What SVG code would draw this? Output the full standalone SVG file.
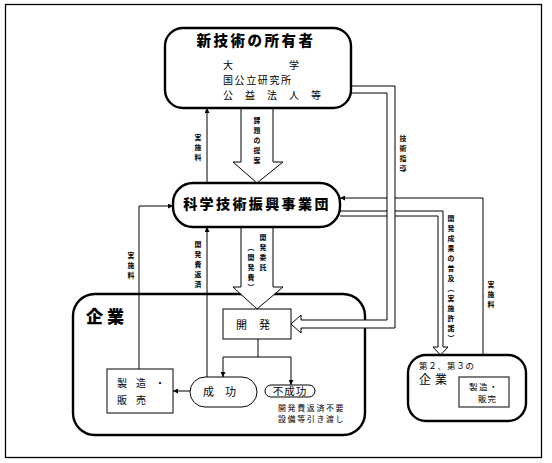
<svg xmlns="http://www.w3.org/2000/svg" width="552" height="463" viewBox="0 0 552 463">
<defs>
<marker id="ah" viewBox="0 0 10 10" refX="10" refY="5" markerWidth="5" markerHeight="5" orient="auto" markerUnits="userSpaceOnUse">
<path d="M0,0 L10,5 L0,10 Z" fill="#000"/>
</marker>
</defs>
<style>
text{font-family:"Noto Sans CJK JP","Noto Sans CJK SC",sans-serif;fill:#000}
.v{font-size:6.9px;text-anchor:middle;font-weight:bold}
.b{font-weight:900}
.box{fill:#fff;stroke:#000;stroke-width:2.4}
.rect{fill:#fff;stroke:#000;stroke-width:1}
.ln{fill:none;stroke:#000;stroke-width:1}
.ha{fill:#fff;stroke:#000;stroke-width:1}
</style>
<rect x="5.5" y="4.5" width="536" height="453" fill="#fff" stroke="#000" stroke-width="1.3"/>

<g id="kigyou">
<rect class="box" x="73" y="294" width="292" height="141" rx="22"/>
<text x="86" y="323" font-size="17" class="b" letter-spacing="4">企業</text>
</g>

<g id="connectors">
<line class="ln" x1="207" y1="183" x2="207" y2="108" marker-end="url(#ah)"/>
<line class="ln" x1="207" y1="377" x2="207" y2="227" marker-end="url(#ah)"/>
<polyline class="ln" points="139,369 139,206 173,206" marker-end="url(#ah)"/>
<polyline class="ln" points="483,377 483,198 340,198" marker-end="url(#ah)"/>
<line class="ln" x1="258" y1="339" x2="258" y2="357"/>
<line class="ln" x1="223" y1="357" x2="291" y2="357"/>
<line class="ln" x1="223" y1="357" x2="223" y2="377" marker-end="url(#ah)"/>
<line class="ln" x1="291" y1="357" x2="291" y2="385" marker-end="url(#ah)"/>
<line class="ln" x1="190" y1="391" x2="173" y2="391" marker-end="url(#ah)"/>
<path class="ha" d="M241,108 V162 H233 L257,183 L283,162 H273 V108"/>
<path class="ha" d="M241,227 V287 H233 L257,309 L283,287 H273 V227"/>
<path class="ha" d="M340,211 H443 V347 H448 L440.5,355 L433,347 H438 V216 H340"/>
<path class="ha" d="M351,86 H395 V328 H301 V333 L291,324 L301,315 V320 H387 V93 H351"/>
</g>

<g id="owner">
<rect class="box" x="165" y="28" width="186" height="80" rx="18"/>
<text x="256" y="46" font-size="14.5" class="b" text-anchor="middle" letter-spacing="2.5">新技術の所有者</text>
<text x="223" y="69" font-size="10">大</text>
<text x="289" y="69" font-size="10">学</text>
<text x="223" y="84" font-size="10" letter-spacing="1.6">国公立研究所</text>
<text x="223" y="99" font-size="10" letter-spacing="12">公益法人等</text>
</g>

<g id="jst">
<rect class="box" x="173" y="183" width="167" height="44" rx="20"/>
<text x="257" y="209" font-size="14" class="b" text-anchor="middle" letter-spacing="2.4">科学技術振興事業団</text>
</g>

<g id="kaihatsu">
<rect class="rect" x="223" y="309" width="68" height="30"/>
<text x="236" y="329" font-size="11" letter-spacing="12">開発</text>
</g>

<g id="seizou">
<rect class="rect" x="107" y="369" width="66" height="44"/>
<text x="117" y="387" font-size="10" letter-spacing="9">製造・</text>
<text x="117" y="404" font-size="10" letter-spacing="9">販売</text>
</g>

<g id="seikou">
<rect class="rect" x="190" y="377" width="67" height="30" rx="15"/>
<text x="203" y="396" font-size="11" letter-spacing="11">成功</text>
</g>

<g id="fuseikou">
<rect class="rect" x="265" y="385" width="50" height="12" rx="6"/>
<text x="290" y="395" font-size="10.5" text-anchor="middle" letter-spacing="1">不成功</text>
<text x="278" y="411" font-size="8" letter-spacing="1.6">開発費返済不要</text>
<text x="278" y="422" font-size="8" letter-spacing="1.6">設備等引き渡し</text>
</g>

<g id="daini">
<rect class="box" x="408" y="355" width="118" height="66" rx="18"/>
<text x="419" y="369" font-size="8.5" letter-spacing="0.8">第２、第３の</text>
<text x="419" y="384" font-size="12" letter-spacing="4">企業</text>
<rect class="rect" x="459" y="377" width="50" height="30"/>
<text x="469" y="390" font-size="8.5" letter-spacing="1.5">製造・</text>
<text x="478" y="402" font-size="8.5" letter-spacing="1">販完</text>
</g>

<g id="labels">
<text class="v"><tspan x="198" y="139.6">実</tspan><tspan x="198" y="149.6">施</tspan><tspan x="198" y="159.6">料</tspan></text>
<text class="v"><tspan x="257" y="122.6">課</tspan><tspan x="257" y="132.6">題</tspan><tspan x="257" y="142.6">の</tspan><tspan x="257" y="152.6">提</tspan><tspan x="257" y="162.6">案</tspan></text>
<text class="v"><tspan x="403" y="140.6">技</tspan><tspan x="403" y="150.6">術</tspan><tspan x="403" y="160.6">指</tspan><tspan x="403" y="170.6">導</tspan></text>
<text class="v"><tspan x="131" y="257.6">実</tspan><tspan x="131" y="267.6">施</tspan><tspan x="131" y="277.6">料</tspan></text>
<text class="v"><tspan x="198" y="246.6">開</tspan><tspan x="198" y="256.6">発</tspan><tspan x="198" y="266.6">費</tspan><tspan x="198" y="276.6">返</tspan><tspan x="198" y="286.6">済</tspan></text>
<text class="v"><tspan x="263" y="239.6">開</tspan><tspan x="263" y="249.6">発</tspan><tspan x="263" y="259.6">委</tspan><tspan x="263" y="269.6">託</tspan></text>
<text class="v"><tspan x="251" y="249.6">︵</tspan><tspan x="251" y="259.6">開</tspan><tspan x="251" y="269.6">発</tspan><tspan x="251" y="279.6">費</tspan><tspan x="251" y="289.6">︶</tspan></text>
<text class="v"><tspan x="451" y="220.6">開</tspan><tspan x="451" y="230.6">発</tspan><tspan x="451" y="240.6">成</tspan><tspan x="451" y="250.6">果</tspan><tspan x="451" y="260.6">の</tspan><tspan x="451" y="270.6">普</tspan><tspan x="451" y="280.6">及</tspan><tspan x="451" y="290.6">︵</tspan><tspan x="451" y="300.6">実</tspan><tspan x="451" y="310.6">施</tspan><tspan x="451" y="320.6">許</tspan><tspan x="451" y="330.6">諾</tspan><tspan x="451" y="340.6">︶</tspan></text>
<text class="v"><tspan x="491" y="286.6">実</tspan><tspan x="491" y="296.6">施</tspan><tspan x="491" y="306.6">料</tspan></text>
</g>
</svg>
